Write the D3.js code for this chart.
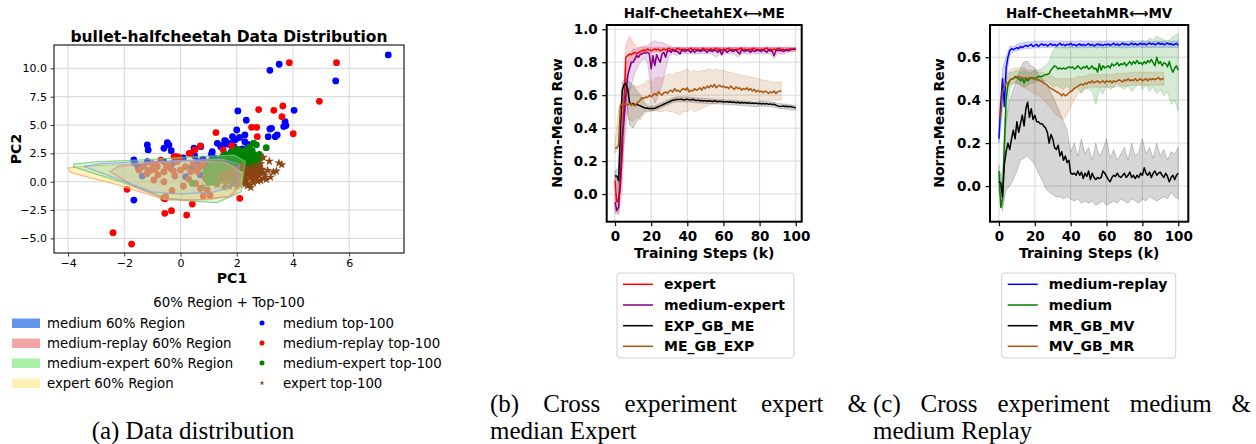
<!DOCTYPE html>
<html>
<head>
<meta charset="utf-8">
<script src="https://cdn.jsdelivr.net/npm/d3@7"></script>
<style>
  body { margin: 0; background: #fff; }
  svg { display: block; }
</style>
</head>
<body>
<svg id="fig" width="1256" height="444"></svg>
<script>
// ---------------- (a) PCA view of the four datasets ----------------
const pcaXTicks = [-4, -2, 0, 2, 4, 6];
const pcaYTicks = [-5, -2.5, 0, 2.5, 5, 7.5, 10];

// 60% density regions (convex outlines in PC space)
const regionMedium = [[-3.45,1.35],[-2.8,1.6],[-1.5,1.75],[0.3,1.85],[1.5,2.0],[2.1,1.5],[2.0,-0.3],[1.2,-0.9],[0.0,-1.1],[-1.0,-0.9],[-2.5,0.5]];
const regionReplay = [[-2.5,0.9],[-2.2,1.35],[-1.2,1.65],[0.2,1.9],[1.4,1.95],[2.0,1.3],[2.12,-0.3],[1.75,-1.3],[0.5,-1.62],[-0.5,-1.6],[-1.6,-0.5]];
const regionMixed = [[-3.8,1.55],[-3.0,1.75],[-1.2,1.95],[0.5,2.2],[1.9,2.35],[2.3,1.8],[2.15,-0.9],[1.3,-1.85],[0.3,-1.7],[-0.5,-1.45],[-2.0,-0.1],[-3.8,1.3]];
const regionExpert = [[-4.0,1.2],[-3.9,0.8],[-2.2,-0.3],[-0.6,-1.55],[0.95,-1.6],[1.8,-1.3],[2.15,-0.45],[2.2,0.8],[1.6,1.7],[0.2,1.85],[-1.8,1.55],[-3.5,1.35]];

// top-100 returns per dataset
const topMedium = [[7.39,11.18],[3.51,10.36],[3.18,9.83],[5.52,8.89],[2.04,6.24],[4.04,6.3],[2.34,5.42],[3.72,5.3],[3.75,4.95],[3.67,4.86],[3.24,4.71],[3.18,4.65],[3.44,4.12],[3.12,3.97],[3.37,3.97],[2.0,4.56],[2.29,4.12],[1.85,3.97],[2.29,3.52],[2.1,3.9],[1.95,3.7],[1.6,3.6],[1.7,3.3],[1.5,3.2],[1.31,3.39],[1.57,3.62],[1.43,3.09],[1.78,3.39],[1.13,2.65],[1.9,3.1],[2.4,3.3],[0.48,2.95],[0.72,3.09],[-1.18,3.24],[-1.15,2.8],[-0.47,3.44],[-0.41,3.24],[-0.59,2.95],[-0.33,2.74],[-1.66,1.92],[-1.62,1.62],[-1.18,1.77],[-1.66,-1.62],[-1.36,0.5],[-1.1,1.0],[-1.5,1.3],[-0.9,1.5],[-0.6,1.8],[-0.3,1.6],[0.18,0.44],[0.4,1.2],[0.6,1.8],[0.8,2.0],[1.0,1.6],[1.2,2.1],[0.9,1.2],[0.7,0.6],[1.4,1.9],[1.3,1.5],[-0.1,1.9],[0.1,2.1],[0.5,2.3],[1.1,2.4],[1.6,2.2],[1.8,2.6],[2.2,2.9],[2.5,2.6]];
const topReplay = [[3.87,10.5],[5.55,10.5],[4.94,7.09],[2.78,6.36],[3.32,6.3],[3.64,6.68],[3.61,5.74],[2.53,4.8],[2.71,4.8],[2.73,3.97],[4.01,4.24],[1.26,4.33],[2.11,-1.47],[0.71,3.15],[0.51,2.8],[0.31,2.5],[1.52,2.8],[1.82,3.15],[1.88,2.95],[-0.14,2.2],[0.36,2.5],[-2.4,-4.5],[-1.74,-5.5],[-1.9,-0.67],[-0.56,-2.79],[-0.32,-2.56],[0.22,-2.94],[0.42,-1.97],[-0.6,-1.44],[0.81,-1.26],[1.05,-1.2],[-0.55,-1.5],[-1.06,1.03],[-0.83,1.32],[-0.59,0.88],[-0.35,1.18],[-0.12,1.77],[0.0,1.03],[0.18,1.32],[0.36,0.88],[-0.95,0.15],[-0.59,0.0],[-0.53,-1.32],[0.71,-0.59],[0.95,-0.74],[0.54,-0.15],[0.89,0.3],[-0.41,1.47],[-0.23,2.2],[-1.3,1.32],[-1.48,1.03],[-1.2,0.7],[-0.8,0.6],[-0.2,0.5],[0.3,0.2],[0.6,0.9],[0.8,1.5],[1.0,1.1],[-0.7,1.9],[-0.05,2.15],[0.1,-0.4],[-0.3,-0.8],[1.2,0.4],[1.5,2.2],[-0.9,1.1],[-0.5,1.35],[-0.25,0.95],[0.45,1.55],[0.65,1.25],[-1.0,1.6]];
const topMixed = [[1.0,0.6],[1.1,1.0],[1.2,1.3],[1.3,0.9],[1.4,1.5],[1.5,1.2],[1.6,1.7],[1.7,1.4],[1.8,1.9],[1.9,1.6],[2.0,2.1],[2.1,1.8],[2.2,2.3],[2.3,2.0],[2.4,2.5],[2.5,2.2],[2.2,2.7],[2.35,2.8],[2.6,2.4],[2.7,2.0],[2.85,2.1],[2.6,3.4],[2.7,3.25],[3.05,3.0],[2.4,2.9],[1.2,0.2],[1.3,-0.1],[1.18,-0.07],[0.42,-0.14],[1.5,0.5],[1.6,0.9],[1.7,1.1],[1.8,1.3],[1.9,1.0],[2.0,1.5],[2.1,1.2],[2.2,1.6],[2.3,1.4],[2.4,1.8],[2.5,1.6],[1.4,2.0],[1.5,2.2],[1.6,2.4],[1.7,2.1],[1.8,2.5],[1.9,2.3],[2.0,2.6],[2.1,2.4],[1.3,1.7],[1.2,1.9],[1.1,1.5],[1.0,1.2],[1.15,0.7],[2.6,1.2],[2.65,1.8],[2.75,1.5],[2.3,0.9],[2.0,0.7],[1.75,0.6],[1.55,0.3],[1.35,0.5],[2.45,1.1],[1.95,1.75],[2.15,2.05],[1.65,1.9],[1.45,1.75],[1.25,1.1],[1.05,1.8],[2.55,2.75],[2.05,2.85],[1.05,0.3],[1.25,0.75],[1.45,1.05],[1.65,1.25],[1.85,1.45],[2.05,1.65],[2.25,1.85],[2.45,2.05],[2.55,2.45],[2.35,2.55],[2.15,2.5],[1.95,2.05],[1.75,1.8],[1.55,1.55],[1.35,1.3],[1.15,1.05],[1.25,0.45],[1.45,0.8],[1.65,1.0],[1.85,1.2],[2.05,1.35],[2.25,1.15],[2.5,1.35],[2.7,1.7],[2.8,2.4],[2.45,3.05],[1.9,2.75],[0.9,0.9],[0.95,0.2],[1.0,-0.1]];
const topExpert = [[1.7,0.8],[1.8,0.5],[1.9,1.0],[2.0,0.7],[2.1,0.3],[2.2,0.9],[2.3,0.6],[2.4,1.1],[2.5,0.4],[2.6,0.8],[2.7,1.0],[2.8,0.5],[2.9,0.8],[1.65,0.2],[1.75,0.0],[1.85,-0.2],[2.0,-0.4],[2.2,-0.1],[2.35,0.1],[2.45,-0.3],[2.55,0.2],[2.7,0.3],[2.85,0.1],[3.0,0.6],[3.1,1.0],[3.3,0.85],[3.41,0.94],[3.5,1.65],[3.16,1.8],[2.94,2.15],[2.8,1.3],[2.6,1.4],[2.3,1.3],[2.1,1.25],[1.9,0.3],[1.6,0.6],[1.5,0.1],[1.4,0.2],[1.3,-0.3],[0.79,-0.44],[1.76,-0.44],[2.37,-0.35],[1.55,-0.5],[2.15,0.5],[2.4,0.7],[2.65,0.6],[2.5,0.95],[1.8,0.9],[2.05,1.1],[2.25,0.35],[2.75,0.75],[2.95,0.3],[3.2,0.4],[2.6,-0.1],[2.0,0.1],[1.7,0.35],[1.45,0.6],[3.6,1.5],[2.85,1.6],[2.2,1.5],[1.9,0.6],[2.05,0.45],[2.2,0.2],[2.35,0.85],[2.55,0.65],[2.65,0.35],[2.8,0.9],[1.95,-0.1],[2.1,-0.25],[2.45,0.5],[2.6,1.05],[2.9,1.1],[3.05,0.2],[2.15,0.75],[1.8,0.15],[2.3,-0.2],[2.5,-0.5],[2.75,0.05],[1.6,-0.2],[2.0,0.95]];

const regionLabels = ["medium 60% Region", "medium-replay 60% Region", "medium-expert 60% Region", "expert 60% Region"];
const topLabels = ["medium top-100", "medium-replay top-100", "medium-expert top-100", "expert top-100"];

// ---------------- (b) / (c) training curves ----------------
const stepsK = d3.range(0, 101);      // evaluation points, thousands of steps
const bandStepsK = d3.range(0, 101, 2);
const curveXTicks = [0, 20, 40, 60, 80, 100];
const exYTicks = [0, 0.2, 0.4, 0.6, 0.8, 1.0];
const mvYTicks = [0, 0.2, 0.4, 0.6];

// Half-Cheetah EX <-> ME
const exExpert = [0.08,-0.05,-0.03,0.05,0.25,0.55,0.83,0.84,0.85,0.845,
  0.855,0.86,0.85,0.86,0.865,0.87,0.875,0.87,0.88,0.875,
  0.87,0.875,0.88,0.875,0.88,0.87,0.875,0.88,0.875,0.88,
  0.885,0.875,0.88,0.872,0.88,0.885,0.875,0.88,0.876,0.88,
  0.874,0.88,0.885,0.875,0.88,0.876,0.88,0.872,0.88,0.885,
  0.876,0.88,0.874,0.882,0.875,0.88,0.886,0.875,0.88,0.874,
  0.88,0.876,0.882,0.885,0.875,0.88,0.874,0.88,0.876,0.882,
  0.886,0.875,0.88,0.874,0.88,0.876,0.882,0.885,0.875,0.88,
  0.874,0.88,0.876,0.882,0.886,0.875,0.88,0.874,0.88,0.876,
  0.882,0.885,0.875,0.88,0.874,0.88,0.876,0.882,0.878,0.88,
  0.878];
const exMixed = [-0.05,-0.1,-0.08,0.1,0.35,0.45,0.6,0.72,0.76,0.8,
  0.8,0.82,0.84,0.83,0.85,0.85,0.86,0.855,0.86,0.85,
  0.76,0.84,0.78,0.845,0.82,0.8,0.85,0.86,0.83,0.87,
  0.87,0.86,0.875,0.865,0.87,0.86,0.85,0.875,0.87,0.865,
  0.875,0.87,0.86,0.875,0.86,0.87,0.875,0.865,0.87,0.875,
  0.87,0.86,0.875,0.87,0.865,0.875,0.87,0.86,0.875,0.845,
  0.87,0.875,0.86,0.87,0.875,0.865,0.87,0.875,0.86,0.85,
  0.875,0.87,0.865,0.875,0.87,0.86,0.875,0.865,0.87,0.875,
  0.87,0.865,0.875,0.87,0.86,0.875,0.87,0.865,0.84,0.87,
  0.875,0.87,0.875,0.865,0.87,0.875,0.87,0.875,0.878,0.88,
  0.88];
const exExpGbMe = [0.11,0.11,0.08,0.4,0.63,0.665,0.67,0.64,0.56,0.54,
  0.55,0.54,0.545,0.54,0.535,0.53,0.525,0.52,0.522,0.518,
  0.52,0.518,0.52,0.525,0.53,0.535,0.54,0.545,0.55,0.555,
  0.56,0.565,0.57,0.57,0.575,0.573,0.576,0.575,0.57,0.574,
  0.576,0.572,0.57,0.575,0.571,0.568,0.57,0.566,0.568,0.565,
  0.567,0.563,0.566,0.565,0.562,0.566,0.563,0.56,0.564,0.56,
  0.562,0.558,0.561,0.557,0.56,0.556,0.558,0.554,0.557,0.553,
  0.555,0.552,0.556,0.551,0.554,0.55,0.553,0.549,0.552,0.548,
  0.551,0.547,0.55,0.546,0.549,0.545,0.547,0.543,0.545,0.54,
  0.535,0.533,0.532,0.535,0.531,0.533,0.53,0.532,0.528,0.526,
  0.523];
const exMeGbExp = [0.28,0.28,0.3,0.54,0.545,0.545,0.548,0.54,0.55,0.54,
  0.545,0.535,0.55,0.56,0.57,0.585,0.58,0.59,0.585,0.6,
  0.59,0.6,0.61,0.6,0.62,0.61,0.6,0.615,0.62,0.61,
  0.625,0.63,0.62,0.64,0.625,0.63,0.62,0.635,0.64,0.63,
  0.645,0.62,0.63,0.625,0.64,0.63,0.635,0.645,0.63,0.65,
  0.64,0.655,0.645,0.66,0.65,0.665,0.645,0.655,0.66,0.65,
  0.655,0.645,0.65,0.64,0.655,0.645,0.635,0.65,0.64,0.645,
  0.63,0.64,0.635,0.645,0.63,0.64,0.625,0.635,0.62,0.63,
  0.62,0.625,0.615,0.625,0.62,0.61,0.62,0.615,0.625,0.61,
  0.62,0.625,0.625];

// spread across seeds, sampled every 2k steps
const exExpertLo = [-0.12,-0.12,0.02,0.6,0.76,0.8,0.82,0.84,0.855,0.86,
  0.86,0.862,0.865,0.862,0.865,0.864,0.866,0.863,0.865,0.864,
  0.866,0.863,0.865,0.864,0.866,0.863,0.865,0.864,0.866,0.863,
  0.865,0.864,0.866,0.863,0.865,0.864,0.866,0.863,0.865,0.864,
  0.866,0.863,0.865,0.864,0.866,0.863,0.865,0.864,0.866,0.865,0.866];
const exExpertHi = [0.12,0.06,0.5,0.9,0.96,0.92,0.89,0.89,0.89,0.89,
  0.888,0.89,0.892,0.889,0.891,0.89,0.892,0.889,0.891,0.89,
  0.888,0.89,0.892,0.889,0.891,0.89,0.892,0.889,0.891,0.89,
  0.888,0.89,0.892,0.889,0.891,0.89,0.892,0.889,0.891,0.89,
  0.888,0.89,0.892,0.889,0.891,0.89,0.892,0.889,0.891,0.89,0.89];
const exMixedLo = [-0.1,-0.12,0.2,0.4,0.62,0.7,0.76,0.8,0.82,0.8,
  0.62,0.55,0.6,0.66,0.76,0.84,0.85,0.84,0.85,0.852,
  0.85,0.853,0.848,0.85,0.852,0.85,0.853,0.849,0.83,0.851,
  0.85,0.852,0.848,0.851,0.83,0.85,0.852,0.849,0.851,0.85,
  0.852,0.848,0.851,0.85,0.82,0.852,0.849,0.851,0.86,0.865,0.87];
const exMixedHi = [0.0,-0.04,0.45,0.75,0.84,0.88,0.88,0.89,0.9,0.9,
  0.92,0.93,0.92,0.92,0.91,0.9,0.89,0.892,0.89,0.888,
  0.89,0.892,0.889,0.89,0.891,0.888,0.89,0.892,0.889,0.89,
  0.891,0.888,0.89,0.892,0.889,0.89,0.891,0.888,0.89,0.892,
  0.889,0.89,0.891,0.888,0.89,0.892,0.889,0.89,0.891,0.89,0.89];
const exExpGbMeLo = [0.08,0.0,0.45,0.6,0.42,0.4,0.44,0.47,0.5,0.505,
  0.505,0.505,0.515,0.525,0.535,0.545,0.555,0.56,0.56,0.56,
  0.56,0.557,0.555,0.553,0.552,0.55,0.549,0.548,0.547,0.546,
  0.545,0.543,0.542,0.54,0.539,0.537,0.536,0.534,0.532,0.53,
  0.535,0.533,0.531,0.53,0.528,0.52,0.518,0.516,0.514,0.51,0.508];
const exExpGbMeHi = [0.14,0.16,0.68,0.7,0.68,0.66,0.63,0.6,0.56,0.535,
  0.535,0.535,0.545,0.555,0.565,0.575,0.585,0.59,0.59,0.59,
  0.59,0.587,0.585,0.583,0.582,0.58,0.578,0.577,0.575,0.574,
  0.573,0.571,0.57,0.568,0.567,0.565,0.564,0.562,0.56,0.558,
  0.565,0.563,0.561,0.56,0.558,0.55,0.548,0.546,0.544,0.54,0.538];
const exMeGbExpLo = [0.25,0.27,0.5,0.5,0.45,0.44,0.47,0.45,0.48,0.5,
  0.5,0.51,0.5,0.5,0.51,0.5,0.5,0.49,0.48,0.5,
  0.5,0.52,0.5,0.51,0.52,0.53,0.54,0.55,0.55,0.56,
  0.56,0.56,0.57,0.56,0.56,0.56,0.57,0.56,0.57,0.57,
  0.57,0.56,0.57,0.57,0.57,0.57,0.57];
const exMeGbExpHi = [0.3,0.52,0.58,0.6,0.64,0.66,0.65,0.66,0.67,0.69,
  0.68,0.7,0.71,0.7,0.72,0.73,0.72,0.74,0.74,0.75,
  0.76,0.74,0.75,0.74,0.75,0.75,0.76,0.75,0.76,0.75,
  0.75,0.74,0.74,0.73,0.73,0.72,0.72,0.71,0.71,0.7,
  0.7,0.69,0.69,0.68,0.68,0.68,0.68];

// Half-Cheetah MR <-> MV
const mvReplay = [0.22,0.38,0.5,0.37,0.55,0.6,0.63,0.64,0.635,0.64,
  0.645,0.64,0.65,0.645,0.65,0.655,0.65,0.655,0.66,0.65,
  0.655,0.66,0.65,0.658,0.662,0.655,0.66,0.652,0.658,0.663,
  0.655,0.66,0.653,0.658,0.665,0.656,0.66,0.654,0.66,0.658,
  0.665,0.656,0.66,0.653,0.658,0.662,0.655,0.66,0.654,0.659,
  0.663,0.655,0.66,0.652,0.658,0.662,0.656,0.66,0.654,0.66,
  0.657,0.662,0.655,0.66,0.665,0.657,0.661,0.655,0.66,0.666,
  0.658,0.662,0.656,0.66,0.665,0.658,0.663,0.657,0.66,0.665,
  0.659,0.663,0.657,0.662,0.666,0.66,0.664,0.658,0.662,0.667,
  0.66,0.664,0.658,0.662,0.666,0.66,0.663,0.657,0.66,0.664,
  0.656];
const mvMedium = [0.07,-0.1,-0.06,0.2,0.4,0.47,0.49,0.5,0.5,0.51,
  0.505,0.5,0.49,0.5,0.48,0.5,0.49,0.5,0.505,0.5,
  0.5,0.505,0.51,0.51,0.51,0.515,0.52,0.52,0.525,0.54,
  0.55,0.56,0.555,0.545,0.55,0.545,0.55,0.545,0.55,0.555,
  0.55,0.555,0.545,0.55,0.56,0.55,0.545,0.555,0.55,0.56,
  0.545,0.55,0.56,0.545,0.55,0.53,0.57,0.54,0.56,0.55,
  0.555,0.56,0.55,0.57,0.56,0.565,0.575,0.56,0.57,0.565,
  0.575,0.56,0.57,0.58,0.565,0.58,0.57,0.585,0.57,0.575,
  0.565,0.58,0.57,0.585,0.575,0.59,0.575,0.56,0.6,0.57,
  0.58,0.56,0.575,0.57,0.555,0.58,0.55,0.53,0.55,0.56,
  0.54];
const mvMrGbMv = [0.02,0.015,-0.05,0.1,0.16,0.2,0.17,0.22,0.26,0.22,
  0.3,0.25,0.29,0.33,0.28,0.36,0.39,0.32,0.36,0.31,
  0.33,0.3,0.3,0.29,0.29,0.28,0.27,0.25,0.2,0.24,
  0.22,0.18,0.17,0.19,0.14,0.16,0.12,0.14,0.11,0.12,
  0.06,0.055,0.06,0.05,0.07,0.05,0.065,0.035,0.06,0.045,
  0.07,0.03,0.06,0.04,0.03,0.04,0.035,0.04,0.07,0.06,
  0.045,0.03,0.02,0.04,0.05,0.045,0.06,0.045,0.04,0.05,
  0.06,0.04,0.05,0.065,0.04,0.05,0.035,0.05,0.04,0.06,
  0.05,0.085,0.06,0.05,0.065,0.04,0.06,0.07,0.05,0.06,
  0.065,0.05,0.04,0.06,0.045,0.02,0.04,0.05,0.03,0.05,
  0.06];
const mvMvGbMr = [0.33,0.32,0.44,0.46,0.48,0.48,0.49,0.5,0.5,0.505,
  0.51,0.51,0.505,0.505,0.5,0.505,0.5,0.505,0.5,0.505,
  0.5,0.495,0.495,0.49,0.485,0.48,0.475,0.47,0.46,0.455,
  0.45,0.445,0.44,0.435,0.43,0.42,0.43,0.42,0.425,0.435,
  0.44,0.445,0.455,0.46,0.465,0.47,0.475,0.47,0.48,0.475,
  0.485,0.48,0.49,0.48,0.485,0.49,0.48,0.485,0.49,0.48,
  0.49,0.485,0.49,0.48,0.49,0.485,0.49,0.495,0.49,0.485,
  0.495,0.49,0.5,0.49,0.495,0.49,0.5,0.49,0.495,0.5,
  0.49,0.495,0.5,0.49,0.5,0.495,0.5,0.495,0.5,0.505,
  0.495,0.5,0.5];

const mvReplayLo = [0.2,0.36,0.5,0.61,0.625,0.63,0.635,0.64,0.642,0.64,
  0.645,0.643,0.646,0.644,0.645,0.647,0.644,0.646,0.645,0.643,
  0.646,0.644,0.645,0.647,0.644,0.646,0.645,0.643,0.646,0.644,
  0.645,0.647,0.644,0.646,0.645,0.643,0.646,0.644,0.645,0.647,
  0.644,0.646,0.645,0.643,0.646,0.644,0.645,0.647,0.644,0.646,0.645];
const mvReplayHi = [0.25,0.55,0.6,0.65,0.65,0.66,0.665,0.67,0.672,0.67,
  0.675,0.673,0.676,0.674,0.675,0.677,0.674,0.676,0.675,0.673,
  0.676,0.674,0.675,0.677,0.674,0.676,0.675,0.673,0.676,0.674,
  0.675,0.677,0.674,0.676,0.675,0.673,0.676,0.674,0.675,0.677,
  0.674,0.676,0.675,0.673,0.676,0.674,0.675,0.677,0.674,0.676,0.675];
const mvMediumLo = [-0.02,-0.12,0.3,0.45,0.48,0.48,0.47,0.46,0.47,0.48,
  0.48,0.49,0.49,0.49,0.48,0.46,0.47,0.46,0.45,0.47,
  0.44,0.45,0.46,0.43,0.46,0.45,0.44,0.38,0.45,0.43,
  0.47,0.45,0.46,0.48,0.46,0.45,0.47,0.44,0.46,0.48,
  0.45,0.47,0.44,0.46,0.43,0.45,0.42,0.44,0.38,0.4,0.35];
const mvMediumHi = [0.1,0.0,0.5,0.53,0.53,0.54,0.53,0.54,0.53,0.53,
  0.54,0.54,0.55,0.56,0.58,0.63,0.65,0.64,0.65,0.64,
  0.66,0.64,0.65,0.66,0.64,0.65,0.66,0.65,0.67,0.64,
  0.65,0.66,0.65,0.67,0.66,0.67,0.66,0.68,0.67,0.66,
  0.68,0.67,0.69,0.68,0.7,0.69,0.68,0.67,0.69,0.7,0.71];
const mvMrGbMvLo = [-0.02,-0.1,-0.02,0.0,0.03,0.07,0.12,0.13,0.14,0.12,
  0.1,0.06,0.03,-0.01,-0.03,-0.04,-0.05,-0.05,-0.06,-0.05,
  -0.06,-0.07,-0.06,-0.08,-0.07,-0.08,-0.07,-0.09,-0.08,-0.07,
  -0.09,-0.08,-0.07,-0.08,-0.06,-0.07,-0.08,-0.06,-0.07,-0.08,
  -0.06,-0.07,-0.05,-0.06,-0.07,-0.06,-0.05,-0.06,-0.03,-0.05,-0.06];
const mvMrGbMvHi = [0.05,0.06,0.3,0.4,0.45,0.5,0.55,0.58,0.58,0.56,
  0.55,0.52,0.5,0.48,0.45,0.42,0.38,0.34,0.3,0.26,
  0.16,0.2,0.14,0.22,0.15,0.18,0.12,0.2,0.14,0.17,
  0.22,0.13,0.17,0.12,0.15,0.18,0.12,0.2,0.14,0.16,
  0.22,0.15,0.18,0.13,0.2,0.14,0.17,0.12,0.16,0.15,0.18];
const mvMvGbMrLo = [0.3,0.41,0.45,0.47,0.48,0.48,0.47,0.46,0.45,0.44,
  0.43,0.42,0.41,0.39,0.37,0.35,0.33,0.32,0.31,0.33,
  0.37,0.4,0.43,0.44,0.45,0.46,0.46,0.46,0.46,0.46,
  0.46,0.46,0.46,0.465,0.465,0.465,0.465,0.47,0.47,0.47,
  0.47,0.47,0.47,0.47,0.47,0.47,0.47];
const mvMvGbMrHi = [0.36,0.48,0.52,0.54,0.55,0.55,0.55,0.55,0.54,0.54,
  0.53,0.53,0.53,0.52,0.52,0.51,0.5,0.5,0.5,0.5,
  0.5,0.5,0.51,0.51,0.51,0.52,0.52,0.52,0.52,0.52,
  0.52,0.52,0.52,0.525,0.525,0.525,0.525,0.53,0.53,0.53,
  0.53,0.53,0.53,0.53,0.53,0.53,0.53];

const exSeries = ["expert", "medium-expert", "EXP_GB_ME", "ME_GB_EXP"];
const mvSeries = ["medium-replay", "medium", "MR_GB_MV", "MV_GB_MR"];

// ---------------- drawing ----------------
const SANS = "'DejaVu Sans', sans-serif";
const SERIF = "'Liberation Serif', 'DejaVu Serif', serif";
const svg = d3.select("#fig");
const defs = svg.append("defs");

function grid(g, x, y, xTicks, yTicks, color) {
  const [x0, x1] = x.range(), [y0, y1] = y.range();
  g.append("g").selectAll("line").data(xTicks).join("line")
    .attr("x1", d => x(d)).attr("x2", d => x(d)).attr("y1", y0).attr("y2", y1)
    .attr("stroke", color).attr("stroke-width", 1);
  g.append("g").selectAll("line").data(yTicks).join("line")
    .attr("y1", d => y(d)).attr("y2", d => y(d)).attr("x1", x0).attr("x2", x1)
    .attr("stroke", color).attr("stroke-width", 1);
}

function axes(g, x, y, xTicks, yTicks, fx, fy, st) {
  const [x0, x1] = x.range(), [y0, y1] = y.range();
  const xa = g.append("g").attr("transform", `translate(0,${y0})`)
    .call(d3.axisBottom(x).tickValues(xTicks).tickFormat(fx).tickSizeInner(st.tick).tickSizeOuter(0).tickPadding(st.padX));
  const ya = g.append("g").attr("transform", `translate(${x0},0)`)
    .call(d3.axisLeft(y).tickValues(yTicks).tickFormat(fy).tickSizeInner(st.tick).tickSizeOuter(0).tickPadding(st.padY));
  [xa, ya].forEach(a => {
    a.select(".domain").remove();
    a.selectAll("line").attr("stroke", "#000").attr("stroke-width", st.tickW);
    a.selectAll("text").attr("font-family", SANS).attr("font-size", st.fs)
      .attr("font-weight", st.fw).attr("fill", "#000");
  });
  g.append("rect").attr("x", x0).attr("y", y1).attr("width", x1 - x0).attr("height", y0 - y1)
    .attr("fill", "none").attr("stroke", st.frame).attr("stroke-width", st.frameW);
}

function clip(id, x, y) {
  const [x0, x1] = x.range(), [y0, y1] = y.range();
  defs.append("clipPath").attr("id", id).append("rect")
    .attr("x", x0).attr("y", y1).attr("width", x1 - x0).attr("height", y0 - y1);
}

// ---- panel (a)
{
  const x = d3.scaleLinear().domain([-4.5, 7.95]).range([54, 404]);
  const y = d3.scaleLinear().domain([-6.29, 12.06]).range([253, 45]);
  const g = svg.append("g");
  clip("clipA", x, y);
  grid(g, x, y, pcaXTicks, pcaYTicks, "#d6d6d6");
  const plot = g.append("g").attr("clip-path", "url(#clipA)");

  const dotSets = [
    { pts: topMedium, color: "#0000ff" },
    { pts: topReplay, color: "#ff0000" },
    { pts: topMixed, color: "#008000" }
  ];
  dotSets.forEach(s => {
    plot.append("g").selectAll("circle").data(s.pts).join("circle")
      .attr("cx", d => x(d[0])).attr("cy", d => y(d[1])).attr("r", 3.4).attr("fill", s.color);
  });
  const star = d3.symbol().type(d3.symbolStar).size(26);
  plot.append("g").selectAll("path").data(topExpert).join("path")
    .attr("d", star).attr("transform", d => `translate(${x(d[0])},${y(d[1])})`)
    .attr("fill", "#8b4513");

  const regions = [
    { pts: regionExpert, fill: "#ffe066", stroke: "#e8b070", op: 0.42 },
    { pts: regionMixed, fill: "#90ee90", stroke: "#6cc86c", op: 0.3 },
    { pts: regionReplay, fill: "#f08080", stroke: "#ec8a8a", op: 0.16 },
    { pts: regionMedium, fill: "#6495ed", stroke: "#8aa2e0", op: 0.1 }
  ];
  const line = d3.line().x(d => x(d[0])).y(d => y(d[1])).curve(d3.curveLinearClosed);
  regions.forEach(r => {
    plot.append("path").attr("d", line(r.pts)).attr("fill", r.fill).attr("fill-opacity", r.op)
      .attr("stroke", r.stroke).attr("stroke-opacity", 0.75).attr("stroke-width", 1.3);
  });

  axes(g, x, y, pcaXTicks, pcaYTicks, d3.format("d"), d3.format(".1f"),
    { tick: 3.5, padX: 3, padY: 3.5, fs: 11, fw: "normal", tickW: 0.8, frame: "#222", frameW: 1.2 });

  g.append("text").attr("x", 229).attr("y", 42).attr("text-anchor", "middle")
    .attr("font-family", SANS).attr("font-weight", "bold").attr("font-size", 15.5)
    .text("bullet-halfcheetah Data Distribution");
  g.append("text").attr("x", 232).attr("y", 283).attr("text-anchor", "middle")
    .attr("font-family", SANS).attr("font-weight", "bold").attr("font-size", 14).text("PC1");
  g.append("text").attr("transform", "translate(21,149) rotate(-90)").attr("text-anchor", "middle")
    .attr("font-family", SANS).attr("font-weight", "bold").attr("font-size", 14).text("PC2");

  // legend
  const lg = svg.append("g").attr("font-family", SANS).attr("font-size", 13.3);
  lg.append("text").attr("x", 229).attr("y", 307).attr("text-anchor", "middle").text("60% Region + Top-100");
  const patchColors = ["#6495ed", "#f4a6a6", "#a8f0a8", "#fff0b3"];
  const markColors = ["#0000ff", "#ff0000", "#008000", "#8b4513"];
  const rowY = [323, 343, 363, 383];
  regionLabels.forEach((t, i) => {
    lg.append("rect").attr("x", 12).attr("y", rowY[i] - 4.5).attr("width", 28).attr("height", 9.5).attr("fill", patchColors[i]);
    lg.append("text").attr("x", 47).attr("y", rowY[i] + 4.5).text(t);
  });
  topLabels.forEach((t, i) => {
    if (i < 3) {
      lg.append("circle").attr("cx", 262).attr("cy", rowY[i]).attr("r", 2.5).attr("fill", markColors[i]);
    } else {
      lg.append("path").attr("d", d3.symbol().type(d3.symbolStar).size(8)).attr("transform", `translate(262,${rowY[i]})`).attr("fill", markColors[i]);
    }
    lg.append("text").attr("x", 283).attr("y", rowY[i] + 4.5).text(t);
  });
}

// ---- panels (b) and (c)
function curvePanel(cfg) {
  const x = d3.scaleLinear().domain(cfg.xDom).range(cfg.xRange);
  const y = d3.scaleLinear().domain(cfg.yDom).range([221.7, 25]);
  const g = svg.append("g");
  clip(cfg.id, x, y);
  grid(g, x, y, curveXTicks, cfg.yTicks, "#dadada");
  const plot = g.append("g").attr("clip-path", `url(#${cfg.id})`);

  cfg.series.forEach(s => {
    const area = d3.area().x((d, i) => x(bandStepsK[i])).y0(d => y(d[0])).y1(d => y(d[1]));
    const pairs = s.lo.map((v, i) => [v, s.hi[i]]);
    plot.append("path").attr("d", area(pairs)).attr("fill", s.color).attr("fill-opacity", 0.16)
      .attr("stroke", s.color).attr("stroke-opacity", 0.18).attr("stroke-width", 1);
  });
  cfg.series.forEach(s => {
    const ln = d3.line().x((d, i) => x(stepsK[i])).y(d => y(d));
    plot.append("path").attr("d", ln(s.values)).attr("fill", "none")
      .attr("stroke", s.color).attr("stroke-width", 1.5).attr("stroke-linejoin", "round");
  });

  axes(g, x, y, curveXTicks, cfg.yTicks, d3.format("d"), d3.format(".1f"),
    { tick: 4.5, padX: 5, padY: 4.5, fs: 13.5, fw: "bold", tickW: 1.2, frame: "#000", frameW: 2 });

  const [x0, x1] = x.range();
  const cx = (x0 + x1) / 2;
  g.append("text").attr("x", cx).attr("y", 18).attr("text-anchor", "middle")
    .attr("font-family", SANS).attr("font-weight", "bold").attr("font-size", 13.5).text(cfg.title);
  g.append("text").attr("x", cx).attr("y", 258).attr("text-anchor", "middle")
    .attr("font-family", SANS).attr("font-weight", "bold").attr("font-size", 14).text("Training Steps (k)");
  g.append("text").attr("transform", `translate(${cfg.yLabelX},123) rotate(-90)`).attr("text-anchor", "middle")
    .attr("font-family", SANS).attr("font-weight", "bold").attr("font-size", 14).text("Norm-Mean Rew");

  // legend
  const lg = svg.append("g").attr("font-family", SANS).attr("font-weight", "bold").attr("font-size", 14);
  lg.append("rect").attr("x", cfg.legX).attr("y", 273).attr("width", cfg.legW).attr("height", 85)
    .attr("rx", 3).attr("fill", "#fff").attr("fill-opacity", 0.8).attr("stroke", "#d0d0d0").attr("stroke-width", 1);
  const rows = [284.3, 305, 325.7, 346.3];
  cfg.series.forEach((s, i) => {
    lg.append("line").attr("x1", cfg.legX + 6).attr("x2", cfg.legX + 36).attr("y1", rows[i]).attr("y2", rows[i])
      .attr("stroke", s.color).attr("stroke-width", 1.5);
    lg.append("text").attr("x", cfg.legX + 47).attr("y", rows[i] + 5).text(s.name);
  });
}

curvePanel({
  id: "clipB", title: "Half-CheetahEX\u27F7ME",
  xDom: [-4.6, 103.3], xRange: [606.7, 801.7], yDom: [-0.168, 1.026], yTicks: exYTicks,
  yLabelX: 562, legX: 617, legW: 177,
  series: [
    { name: exSeries[0], color: "#ff0000", values: exExpert, lo: exExpertLo, hi: exExpertHi },
    { name: exSeries[1], color: "#800080", values: exMixed, lo: exMixedLo, hi: exMixedHi },
    { name: exSeries[2], color: "#000000", values: exExpGbMe, lo: exExpGbMeLo, hi: exExpGbMeHi },
    { name: exSeries[3], color: "#a9560e", values: exMeGbExp, lo: exMeGbExpLo, hi: exMeGbExpHi }
  ]
});

curvePanel({
  id: "clipC", title: "Half-CheetahMR\u27F7MV",
  xDom: [-5.0, 105.6], xRange: [990, 1188.3], yDom: [-0.166, 0.75], yTicks: mvYTicks,
  yLabelX: 944, legX: 1001.7, legW: 174,
  series: [
    { name: mvSeries[0], color: "#0000ff", values: mvReplay, lo: mvReplayLo, hi: mvReplayHi },
    { name: mvSeries[1], color: "#008000", values: mvMedium, lo: mvMediumLo, hi: mvMediumHi },
    { name: mvSeries[2], color: "#000000", values: mvMrGbMv, lo: mvMrGbMvLo, hi: mvMrGbMvHi },
    { name: mvSeries[3], color: "#a9560e", values: mvMvGbMr, lo: mvMvGbMrLo, hi: mvMvGbMrHi }
  ]
});

// ---- sub-figure captions (first lines justified between the column margins)
const cap = svg.append("g").attr("font-family", SERIF).attr("font-size", 25).attr("fill", "#000");
function justified(words, x0, x1, yb) {
  const nodes = words.map(w => cap.append("text").attr("y", yb).text(w));
  const widths = nodes.map(n => n.node().getComputedTextLength());
  const gap = (x1 - x0 - d3.sum(widths)) / (words.length - 1);
  let cx = x0;
  nodes.forEach((n, i) => { n.attr("x", cx); cx += widths[i] + gap; });
}
cap.append("text").attr("x", 193).attr("y", 439).attr("text-anchor", "middle").text("(a) Data distribution");
justified(["(b)", "Cross", "experiment", "expert", "&"], 490, 867, 412);
cap.append("text").attr("x", 490).attr("y", 439).text("median Expert");
justified(["(c)", "Cross", "experiment", "medium", "&"], 873, 1251, 412);
cap.append("text").attr("x", 873).attr("y", 439).text("medium Replay");
</script>
</body>
</html>
